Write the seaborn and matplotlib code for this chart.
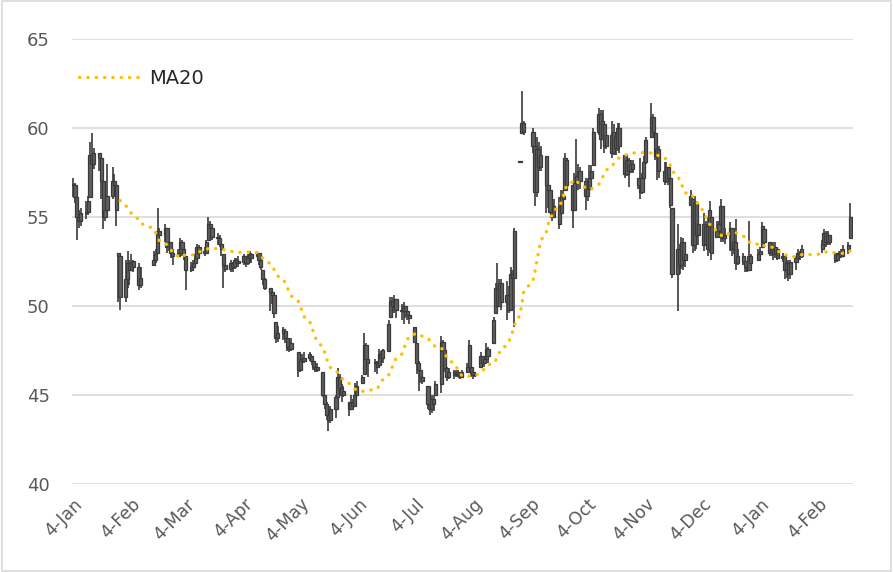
import numpy as np
import pandas as pd
import matplotlib
matplotlib.use("Agg")
import matplotlib.pyplot as plt
import matplotlib.dates as mdates
from matplotlib.patches import Rectangle
import seaborn as sns

nan = np.nan

# daily prices, one row per week (Mon..Fri), gaps = no trading
close = [
    56.8, 56.1, 55.0, 54.8, 55.2,
    55.3, 55.9, 58.5, 58.0, 58.6,
    58.3, 57.0, 55.0, 55.4, 56.2,
    57.0, 56.8, 55.4, 52.8, 50.5,
    51.5, 52.4, 52.0, 52.5, 52.2,
    51.2, 51.6, nan, nan, nan,
    nan, 52.6, 52.9, 54.2, 54.0,
    54.4, 53.3, 53.6, 53.0, 52.8,
    53.0, 53.6, 53.2, 52.9, 52.0,
    52.2, 52.4, 52.7, 53.3, 53.0,
    53.0, 53.6, 54.6, 54.4, 53.9,
    53.8, 53.5, 53.2, 52.3, 52.1,
    52.4, 52.2, 52.6, 52.4, 52.5,
    52.8, 52.4, 52.7, 52.9, 52.7,
    53.0, 52.6, 52.2, 51.5, 51.0,
    50.8, 50.6, 49.6, 48.2, 48.5,
    48.7, 48.2, 47.7, 47.6, 47.9,
    nan, 46.4, 47.0, 46.9, 47.1,
    47.3, 46.9, 46.6, 46.4, 46.6,
    45.0, 44.5, 43.9, 43.6, 44.2,
    44.9, 46.0, 45.4, 45.0, 45.2,
    44.2, 44.6, 44.4, 45.0, 45.5,
    46.0, 47.8, 47.0, 46.8, nan,
    46.8, 46.6, 47.3, 47.1, 47.5,
    49.0, 50.3, 50.0, 50.4, 49.8,
    49.7, 50.0, 49.7, 49.5, 49.3,
    48.0, 46.8, 46.4, 46.0, 45.8,
    44.5, 44.2, 44.8, 44.5, 45.6,
    48.0, 47.5, 46.5, 46.0, 46.3,
    46.1, 46.3, 46.2, 46.0, 46.3,
    46.6, 47.8, 46.3, 46.1, 46.2,
    47.2, 46.8, 47.0, 47.6, 47.2,
    49.2, 51.0, 50.0, 51.3, 50.2,
    50.6, 49.8, 51.8, 51.6, 54.2,
    58.1, 60.3, 59.8, nan, nan,
    59.0, 56.4, 58.8, 57.8, 58.5,
    56.8, 56.5, 55.3, 55.0, 55.6,
    54.6, 56.2, 56.0, 58.3, 56.8,
    55.4, 56.9, 57.3, 57.6, 57.0,
    56.2, 56.6, 57.2, 57.6, 59.8,
    60.8, 59.4, 60.4, 59.0, 59.6,
    58.6, 59.8, 58.9, 60.0, 59.0,
    57.4, 58.2, 57.6, 58.0, 57.7,
    56.8, 56.4, 57.2, 58.1, 59.3,
    60.6, 59.8, 58.4, 58.8, 57.6,
    57.0, 57.8, 57.2, 55.7, 51.8,
    53.2, 52.3, 53.6, 52.6, 52.9,
    56.2, 53.4, 55.8, 54.0, 54.6,
    53.4, 54.5, 53.2, 55.4, 53.0,
    54.2, 54.6, 55.6, 53.8, 54.0,
    54.4, 53.2, 53.6, 52.4, 52.8,
    52.5, 52.2, 52.0, 52.8, 52.4,
    nan, 52.9, 53.1, 54.5, 53.6,
    53.0, 53.2, 52.9, 53.3, 52.7,
    52.8, 52.0, 52.4, 51.8, 52.5,
    52.7, 53.0, 52.8, 53.2, nan,
    nan, nan, nan, nan, nan,
    53.5, 54.1, 53.6, 54.0, 53.6,
    52.6, 52.9, 53.0, 52.8, 53.2,
    53.4, 55.0,
]

high = [
    57.2, 56.9, 56.3, 55.4, 55.5,
    55.9, 56.2, 59.2, 59.7, 58.9,
    58.6, 58.4, 57.0, 55.9, 58.0,
    57.8, 57.4, 56.9, 53.0, 52.9,
    52.6, 53.1, 52.6, 52.9, 52.6,
    52.4, 52.2, nan, nan, nan,
    nan, 53.1, 53.2, 55.5, 54.4,
    54.6, 54.4, 54.0, 53.6, 53.2,
    53.2, 53.8, 53.7, 53.3, 52.8,
    52.5, 52.6, 52.9, 53.5, 53.4,
    53.3, 53.7, 55.0, 54.8, 54.4,
    54.1, 54.0, 53.5, 52.9, 52.5,
    52.6, 52.5, 52.7, 52.7, 52.8,
    52.9, 52.8, 52.9, 53.1, 53.0,
    53.1, 53.0, 52.6, 52.0, 51.6,
    51.0, 50.8, 50.7, 49.1, 48.9,
    48.8, 48.6, 48.3, 48.2, 48.2,
    nan, 47.4, 47.3, 47.3, 47.4,
    47.4, 47.2, 47.1, 46.8, 46.8,
    46.3, 45.0, 44.6, 44.0, 44.4,
    45.0, 46.5, 46.2, 45.6, 45.5,
    44.6, 45.0, 44.8, 45.7, 45.8,
    46.1, 48.5, 47.9, 47.2, nan,
    47.0, 46.9, 47.6, 47.5, 47.6,
    49.2, 50.5, 50.5, 50.6, 50.4,
    50.1, 50.2, 50.0, 49.8, 49.6,
    48.8, 47.9, 46.9, 46.4, 46.2,
    45.5, 44.6, 45.0, 45.0, 45.8,
    48.3, 48.1, 47.6, 46.6, 46.5,
    46.4, 46.4, 46.4, 46.3, 46.4,
    46.8, 48.1, 46.6, 46.4, 46.3,
    47.4, 47.2, 47.2, 47.9, 47.7,
    49.4, 51.3, 52.4, 51.5, 51.5,
    51.4, 51.1, 52.2, 52.0, 54.4,
    58.1, 62.1, 60.4, nan, nan,
    60.0, 59.0, 59.5, 59.2, 59.0,
    58.4, 57.2, 56.6, 56.1, 56.0,
    56.1, 56.5, 56.5, 58.6, 58.2,
    56.8, 57.5, 59.4, 58.0, 57.8,
    57.2, 57.2, 57.9, 57.9, 60.0,
    61.1, 61.0, 61.0, 60.2, 60.0,
    60.4, 60.2, 59.5, 60.3, 60.3,
    58.5, 58.4, 58.3, 58.2, 58.2,
    57.2, 58.3, 57.5, 58.4, 59.5,
    61.4, 60.8, 59.7, 59.3, 59.0,
    58.1, 58.1, 57.8, 57.6, 55.5,
    54.6, 53.5, 53.9, 53.8, 53.4,
    56.5, 56.0, 56.2, 55.9, 55.2,
    55.2, 54.8, 55.0, 55.9, 55.0,
    54.8, 54.8, 56.0, 55.6, 54.4,
    54.7, 54.4, 54.2, 54.9, 53.2,
    53.0, 52.7, 52.5, 54.8, 52.9,
    nan, 53.2, 53.3, 54.7, 54.3,
    53.6, 53.5, 53.6, 53.6, 53.2,
    53.0, 52.8, 52.5, 52.6, 52.6,
    52.8, 53.2, 53.1, 53.4, nan,
    nan, nan, nan, nan, nan,
    53.7, 54.3, 54.2, 54.2, 54.0,
    53.0, 53.0, 53.1, 53.2, 53.4,
    53.6, 55.8,
]

low = [
    56.1, 55.8, 53.7, 54.4, 54.5,
    54.9, 55.1, 56.1, 57.6, 57.7,
    57.6, 56.0, 54.3, 54.8, 55.2,
    56.0, 56.2, 54.5, 50.2, 49.8,
    50.2, 51.0, 51.2, 52.0, 51.9,
    50.9, 51.0, nan, nan, nan,
    nan, 52.3, 52.4, 53.0, 53.4,
    53.6, 53.0, 53.1, 52.7, 52.3,
    52.8, 52.9, 52.8, 52.6, 50.9,
    51.9, 52.0, 52.3, 52.7, 52.8,
    52.8, 52.9, 53.7, 53.9, 53.7,
    53.4, 53.3, 52.8, 51.0, 51.9,
    51.9, 51.9, 52.1, 52.2, 52.2,
    52.3, 52.2, 52.3, 52.5, 52.4,
    52.8, 52.3, 52.0, 51.2, 50.9,
    49.7, 50.1, 49.3, 47.9, 48.0,
    48.1, 47.9, 47.5, 47.4, 47.5,
    nan, 46.0, 46.3, 46.6, 46.8,
    46.9, 46.7, 46.4, 46.3, 46.3,
    44.9, 44.2, 43.6, 43.0, 43.4,
    43.7, 44.9, 45.0, 44.6, 44.9,
    43.8, 44.2, 44.2, 44.3, 45.0,
    45.7, 46.2, 46.5, 46.0, nan,
    46.3, 46.2, 46.7, 46.7, 46.8,
    47.5, 49.4, 49.4, 49.6, 49.3,
    49.2, 49.0, 49.3, 49.2, 49.0,
    47.9, 46.2, 45.2, 45.7, 45.6,
    44.2, 43.9, 44.0, 44.1, 45.0,
    45.1, 46.8, 46.3, 45.8, 45.9,
    45.9, 46.0, 46.0, 45.9, 46.0,
    46.3, 46.4, 46.0, 45.9, 46.0,
    46.6, 46.6, 46.6, 46.8, 46.8,
    47.9, 49.6, 49.6, 50.0, 49.8,
    49.2, 49.6, 49.8, 51.0, 48.8,
    58.1, 59.7, 59.6, nan, nan,
    58.6, 55.6, 56.1, 57.6, 57.6,
    55.2, 55.5, 55.2, 54.8, 55.0,
    54.3, 55.2, 55.4, 56.5, 56.5,
    54.4, 55.4, 55.6, 56.5, 56.6,
    55.4, 55.9, 56.5, 56.9, 57.9,
    59.6, 58.8, 59.3, 58.6, 58.8,
    58.3, 58.5, 58.5, 58.7, 58.6,
    57.2, 57.3, 56.7, 57.5, 57.5,
    56.6, 56.0, 56.3, 57.0, 58.0,
    59.5, 59.5, 58.2, 57.1, 57.2,
    56.8, 56.9, 56.8, 55.5, 51.6,
    49.7, 51.8, 52.1, 52.0, 52.2,
    55.7, 53.0, 53.1, 53.2, 53.4,
    53.1, 53.5, 52.8, 53.0, 52.6,
    53.9, 54.0, 53.6, 53.6, 53.5,
    53.1, 52.8, 52.9, 52.0, 52.3,
    52.3, 51.9, 51.9, 52.0, 52.2,
    nan, 52.6, 52.7, 53.3, 53.3,
    52.8, 52.8, 52.6, 52.7, 52.6,
    52.5, 51.5, 51.6, 51.4, 51.5,
    52.0, 52.6, 52.6, 52.7, nan,
    nan, nan, nan, nan, nan,
    53.0, 53.3, 53.3, 53.4, 53.4,
    52.4, 52.5, 52.8, 52.7, 52.8,
    52.9, 53.8,
]

tick_dates = ["2016-01-04", "2016-02-04", "2016-03-04", "2016-04-04", "2016-05-04",
              "2016-06-04", "2016-07-04", "2016-08-04", "2016-09-04", "2016-10-04",
              "2016-11-04", "2016-12-04", "2017-01-04", "2017-02-04"]
tick_labels = ["4-Jan", "4-Feb", "4-Mar", "4-Apr", "4-May", "4-Jun", "4-Jul",
               "4-Aug", "4-Sep", "4-Oct", "4-Nov", "4-Dec", "4-Jan", "4-Feb"]
y_ticks = [40, 45, 50, 55, 60, 65]

dates = pd.bdate_range("2016-01-04", "2017-02-21")
df = pd.DataFrame({"Date": dates, "Close": close, "High": high, "Low": low})
df = df.dropna().reset_index(drop=True)
df["Open"] = df.Close.shift(1).fillna(df.Close).clip(df.Low, df.High)
df["MA20"] = df.Close.rolling(20).mean()
df["x"] = mdates.date2num(df.Date)

sns.set_theme(style="white")
plt.rcParams["font.family"] = ["DejaVu Sans"]

fig = plt.figure(figsize=(8.93, 5.72), dpi=100)
ax = fig.add_axes([72 / 893, 1 - 484 / 572, (853 - 72) / 893, (484 - 39) / 572])

# candles
ax.vlines(df.x, df.Low, df.High, color="#3a3a3a", lw=1.2, zorder=2)
body_lo = np.minimum(df.Open, df.Close)
body_h = np.maximum((df.Close - df.Open).abs(), 0.07)
ax.bar(df.x, body_h, bottom=body_lo, width=1.7, color="#5f5f5f",
       edgecolor="#3a3a3a", linewidth=0.9, zorder=3)

# moving average
sns.lineplot(data=df, x="x", y="MA20", ax=ax, color="#FFC000", lw=2.4,
             label="MA20", zorder=4)
ma_line = ax.lines[-1]
ma_line.set_linestyle((0, (0.1, 2.4)))
ma_line.set_dash_capstyle("round")

ax.legend(handles=[ma_line], labels=["MA20"], loc="center left",
          bbox_to_anchor=(0.009, 0.912), frameon=False, fontsize=14,
          handlelength=3.2, handletextpad=0.4, borderaxespad=0, borderpad=0,
          labelcolor="#262626")

x0 = mdates.date2num(pd.Timestamp("2016-01-04"))
ax.set_xlim(x0 - 0.6, x0 + 415.4)
ax.set_ylim(40, 65)
ax.set_yticks(y_ticks)
ax.set_xticks(mdates.date2num(pd.to_datetime(tick_dates)))
ax.set_xticklabels(tick_labels, rotation=45, ha="right", rotation_mode="anchor")
ax.tick_params(axis="x", length=0, pad=8, labelsize=12.5, labelcolor="#595959")
ax.tick_params(axis="y", length=0, pad=16, labelsize=13, labelcolor="#595959")
ax.set_xlabel("")
ax.set_ylabel("")
ax.yaxis.grid(True, color="#d9d9d9", lw=1.2)
ax.set_axisbelow(True)
for s in ax.spines.values():
    s.set_visible(False)

fig.patches.append(Rectangle((0.002, 0.002), 0.996, 0.996, transform=fig.transFigure,
                             fill=False, edgecolor="#d9d9d9", lw=1.2))

fig.savefig("out.png", dpi=100)
